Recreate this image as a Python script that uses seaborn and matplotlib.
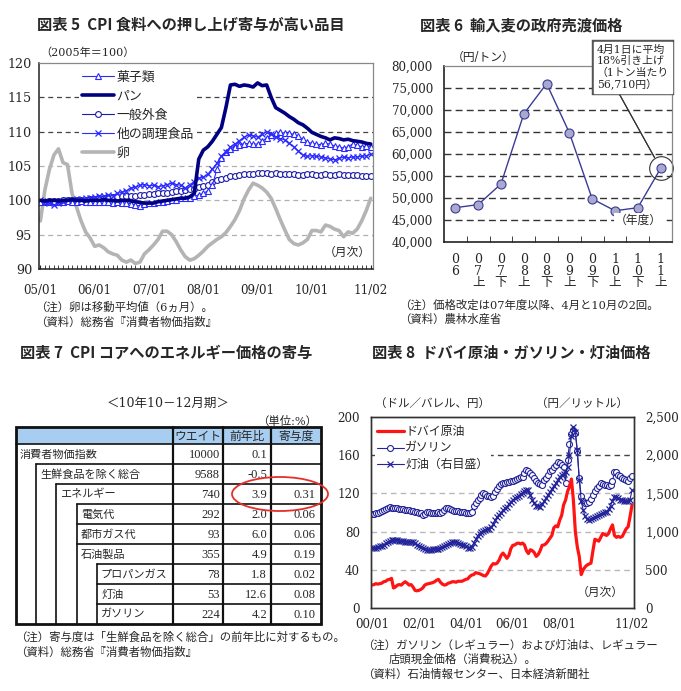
import numpy as np
import seaborn as sns
from matplotlib import pyplot as plt
from matplotlib.patches import Ellipse, Rectangle
from matplotlib.ticker import FuncFormatter, MultipleLocator

sns.set_style('white')
JP = ['Noto Sans CJK JP']
plt.rcParams['font.family'] = ['DejaVu Serif', 'Noto Sans CJK JP']

# ---- 図表5: CPI food items (monthly, 05/01 - 11/02, 2005=100)
cpi_ticks = ['05/01', '06/01', '07/01', '08/01', '09/01', '10/01', '11/02']
sweets = [99.8, 99.9, 99.8, 99.9, 99.8, 99.8, 99.9, 99.8, 99.8, 99.9, 99.8, 99.8,
          99.8, 99.7, 99.8, 99.7, 99.6, 99.7, 99.6, 99.6, 99.5, 99.3, 99.2, 99.4,
          99.6, 99.6, 99.7, 99.8, 99.9, 100.0, 100.1, 100.3, 100.3, 100.4, 100.6, 100.8,
          101.0, 101.4, 102.2, 104.5, 106.2, 107.0, 107.5, 107.8, 108.1, 108.2, 108.3, 108.2,
          108.2, 108.6, 109.1, 109.5, 109.8, 109.9, 109.8, 109.8, 109.6, 109.3, 108.9, 108.5,
          108.3, 108.2, 108.1, 108.3, 108.2, 107.9, 107.8, 107.6, 107.8, 108.2, 108.0, 107.8,
          107.9, 107.8]
bread = [100.0, 99.9, 100.0, 100.0, 99.9, 100.0, 100.0, 100.1, 100.0, 100.0, 99.9, 100.0,
         100.0, 100.0, 100.1, 100.0, 100.0, 99.9, 100.0, 100.0, 99.9, 99.8, 99.7, 99.6,
         99.6, 99.6, 99.8, 99.9, 100.0, 100.1, 100.2, 100.3, 100.3, 100.5, 101.0, 106.0,
         107.3, 107.8, 108.6, 109.6, 110.6, 113.5, 116.8, 116.9, 116.6, 116.8, 116.7, 116.5,
         117.1, 116.7, 116.8, 115.0, 113.5, 113.1, 112.7, 112.2, 111.8, 111.3, 111.0, 110.5,
         109.9, 109.6, 109.3, 109.1, 108.8, 109.1, 109.0, 108.8, 108.9, 108.7, 108.6, 108.5,
         108.3, 108.2]
eating_out = [99.8, 99.8, 99.9, 99.9, 99.9, 100.0, 100.0, 100.0, 100.0, 100.1, 100.1, 100.2,
              100.2, 100.3, 100.3, 100.4, 100.5, 100.5, 100.6, 100.6, 100.7, 100.7, 100.8, 100.8,
              100.9, 100.9, 101.0, 101.0, 101.1, 101.2, 101.3, 101.4, 101.5, 101.6, 101.7, 101.9,
              102.1, 102.3, 102.6, 102.9, 103.1, 103.3, 103.5, 103.6, 103.7, 103.8, 103.9, 103.9,
              104.0, 104.0, 104.0, 103.9, 104.0, 103.9, 103.9, 103.8, 103.8, 103.7, 103.7, 103.8,
              103.8, 103.7, 103.7, 103.8, 103.7, 103.7, 103.8, 103.7, 103.7, 103.7, 103.7, 103.6,
              103.6, 103.6]
prepared = [100.0, 99.8, 99.6, 99.3, 99.6, 99.8, 100.0, 100.1, 100.2, 100.2, 100.3, 100.4,
            100.5, 100.6, 100.6, 100.8, 100.7, 101.0, 101.2, 101.4, 101.8, 101.9, 102.2, 102.3,
            102.1, 102.2, 102.0, 102.1, 102.3, 102.5, 102.3, 102.2, 101.8, 102.3, 102.7, 103.2,
            103.4, 103.8, 104.6, 105.4, 106.5, 107.1, 107.8, 108.2, 108.7, 109.2, 109.5, 109.4,
            109.2, 109.6, 110.0, 109.6, 109.2, 109.0, 108.8, 108.3, 107.8, 107.2, 106.6, 106.4,
            106.5, 106.4, 106.3, 106.2, 106.0, 105.9, 106.1, 106.3, 106.2, 106.3, 106.3, 106.4,
            106.5, 106.7]
egg = [97.0, 101.5, 104.5, 106.6, 107.5, 105.5, 105.2, 101.0, 99.0, 97.0, 95.4, 94.5,
       93.3, 93.5, 93.1, 92.5, 92.2, 92.0, 91.3, 91.0, 91.3, 90.8, 91.0, 92.2,
       92.8, 93.5, 94.3, 95.5, 95.5, 95.0, 94.0, 92.8, 91.8, 91.3, 91.5, 92.0,
       92.6, 93.3, 93.8, 94.3, 94.7, 95.3, 96.2, 97.2, 98.5, 100.2, 101.5, 102.5,
       102.2, 101.8, 101.2, 100.3, 98.8, 97.2, 95.7, 94.3, 93.7, 93.5, 93.8, 94.3,
       95.6, 95.6, 95.4, 96.4, 96.2, 95.8, 95.6, 94.7, 95.4, 95.2, 95.8, 97.0,
       98.5, 100.3]

# ---- 図表6: government resale price of imported wheat (yen/ton)
wheat_period = ['06', '07上', '07下', '08上', '08下', '09上', '09下', '10上', '10下', '11上']
wheat_price = [47800, 48500, 53200, 69100, 76000, 64800, 49800, 47100, 47800, 56710]

# ---- 図表7: energy contribution table
tbl_items = ['消費者物価指数', '生鮮食品を除く総合', 'エネルギー', '電気代', '都市ガス代',
             '石油製品', 'プロパンガス', '灯油', 'ガソリン']
tbl_level = [0, 1, 2, 3, 3, 3, 4, 4, 4]
tbl_weight = [10000, 9588, 740, 292, 93, 355, 78, 53, 224]
tbl_yoy = [0.1, -0.5, 3.9, 2.0, 6.0, 4.9, 1.8, 12.6, 4.2]
tbl_contrib = [None, None, 0.31, 0.06, 0.06, 0.19, 0.02, 0.08, 0.10]
tbl_header = ['ウエイト', '前年比', '寄与度']

# ---- 図表8: Dubai crude, gasoline, kerosene (monthly, 00/01 - 11/02)
oil_ticks = ['00/01', '02/01', '04/01', '06/01', '08/01', '11/02']
dubai = [24.0, 24.5, 25.5, 25.0, 25.5, 26.0, 27.5, 28.0, 29.5, 30.0, 31.0, 21.0,
         22.0, 24.0, 24.5, 24.0, 26.0, 27.5, 26.0, 24.0, 24.5, 22.0, 18.5, 18.0,
         18.5, 19.5, 21.0, 24.0, 25.0, 25.5, 26.0, 26.5, 27.5, 29.0, 30.0, 27.0,
         25.0, 24.0, 24.5, 26.0, 26.5, 27.5, 27.5, 27.0, 28.0, 28.0, 28.0, 29.0,
         30.0, 30.5, 33.0, 34.5, 35.0, 37.0, 36.5, 36.0, 35.0, 34.0, 33.5, 36.0,
         40.0, 44.0, 46.5, 46.0, 47.0, 50.0, 55.0, 57.5, 55.0, 52.0, 55.0, 62.0,
         65.6, 66.0, 67.5, 68.0, 67.0, 68.0, 66.0, 60.0, 57.0, 61.0, 60.0, 58.0,
         54.0, 56.0, 60.0, 65.6, 66.0, 67.4, 70.0, 73.0, 76.0, 84.0, 86.0, 85.0,
         92.0, 97.0, 108.0, 113.0, 122.0, 127.0, 135.0, 113.0, 80.0, 64.0, 54.0, 35.0,
         40.0, 43.0, 45.0, 46.0, 47.0, 60.0, 72.0, 71.0, 70.0, 74.0, 78.0, 77.0,
         76.0, 78.0, 83.0, 87.0, 76.0, 74.0, 75.0, 74.0, 75.0, 79.0, 83.0, 85.0,
         96.0, 108.0]
gasoline = [98, 98.5, 99, 100, 100.5, 102, 103, 104, 105, 105.5, 105, 105,
            104.5, 104.5, 104, 104, 103.5, 103, 102.5, 102.5, 102, 101.5, 101, 100.5,
            100, 99, 97.5, 98.5, 100.5, 100.5, 100, 99.5, 99.5, 100, 100.5, 100,
            101, 103, 105, 105, 104, 103, 102, 102, 101.5, 101, 101, 100.5,
            100, 100, 100, 101, 107, 110, 113, 115, 118, 120, 119, 117,
            117, 116.5, 117, 121, 125, 127.5, 129.5, 130.5, 131, 132, 132, 132.5,
            133, 134, 135.5, 136.5, 137, 137.5, 141, 144.5, 143, 141, 139, 136,
            132.5, 131, 130, 129, 134, 136, 139, 143, 145, 147.5, 150, 153,
            152, 150, 148, 131, 155, 172, 182, 186, 183, 164, 136, 117,
            112, 110, 109.5, 111, 114, 118, 122, 126, 128, 130.5, 130, 129,
            128.5, 128, 129, 133, 142.5, 142, 139.5, 138, 136.5, 135, 134, 133.5,
            136, 138]
kerosene = [780, 785, 790, 795, 805, 815, 830, 845, 860, 875, 885, 890,
            888, 885, 880, 875, 872, 870, 868, 868, 866, 860, 845, 825,
            810, 800, 785, 770, 760, 762, 765, 770, 772, 775, 778, 782,
            795, 810, 825, 840, 855, 862, 868, 860, 850, 840, 830, 822,
            805, 790, 782, 800, 850, 900, 945, 975, 990, 1005, 1020, 1035,
            1040, 1060, 1100, 1150, 1195, 1220, 1250, 1280, 1305, 1325, 1360, 1390,
            1415, 1435, 1450, 1470, 1490, 1510, 1530, 1545, 1540, 1480, 1420, 1370,
            1340, 1330, 1326, 1360, 1400, 1440, 1480, 1520, 1560, 1600, 1630, 1680,
            1720, 1740, 1760, 1785, 1850, 2000, 2250, 2370, 2308, 2068, 1675, 1400,
            1283, 1200, 1160, 1150, 1160, 1175, 1190, 1200, 1215, 1230, 1245, 1255,
            1261, 1290, 1340, 1400, 1457, 1450, 1435, 1420, 1413, 1405, 1400, 1395,
            1420, 1545]

W, H = 681, 691


def box(x0, y0, x1, y1):
    """ pixel box (top-left origin) -> figure fraction rect """
    return [x0 / W, 1 - y1 / H, (x1 - x0) / W, (y1 - y0) / H]


comma = FuncFormatter(lambda v, p: f'{v:,.0f}')

fig = plt.figure(figsize=(W / 100, H / 100), dpi=100)
ov = fig.add_axes([0, 0, 1, 1])
ov.set_xlim(0, W)
ov.set_ylim(H, 0)
ov.axis('off')

TITLE = dict(fontsize=11, fontweight='bold', family=JP, va='center')
NOTE = dict(fontsize=8.2, va='center')
ov.text(37, 25, '図表 5  CPI 食料への押し上げ寄与が高い品目', **TITLE)
ov.text(420, 25, '図表 6  輸入麦の政府売渡価格', **TITLE)
ov.text(20, 353, '図表 7  CPI コアへのエネルギー価格の寄与', **TITLE)
ov.text(372, 353, '図表 8  ドバイ原油・ガソリン・灯油価格', **TITLE)

# ================= 図表5
ax5 = fig.add_axes(box(39, 63, 373, 269))
m5 = np.arange(len(bread))
BLUE, NAVY = '#2a2aff', '#000080'
sns.lineplot(x=m5, y=egg, ax=ax5, color='#b4b4b4', lw=2.6, label='卵', legend=False)
sns.lineplot(x=m5, y=eating_out, ax=ax5, color='#1c1ca8', lw=0.8, marker='o', ms=4.2,
             mfc='white', mec='#1c1ca8', mew=0.8, label='一般外食', legend=False)
sns.lineplot(x=m5, y=sweets, ax=ax5, color=BLUE, lw=0.8, marker='^', ms=4.2,
             mfc='white', mec=BLUE, mew=0.8, label='菓子類', legend=False)
sns.lineplot(x=m5, y=prepared, ax=ax5, color=BLUE, lw=0.8, marker='x', ms=4.2,
             mec=BLUE, mew=0.9, label='他の調理食品', legend=False)
sns.lineplot(x=m5, y=bread, ax=ax5, color=NAVY, lw=2.6, label='パン', legend=False)
for v in [95, 100, 105, 110, 115]:
    ax5.axhline(v, color='#444444' if v >= 110 else '#b0b0b0', lw=0.9,
                ls=(0, (4, 3)), zorder=0)
ax5.set_xlim(-0.3, len(m5) - 0.5)
ax5.set_ylim(90, 120)
ax5.set_yticks(range(90, 121, 5))
ax5.set_xticks([0, 12, 24, 36, 48, 60, len(m5) - 1])
ax5.set_xticklabels(cpi_ticks)
ax5.xaxis.set_minor_locator(MultipleLocator(1))
ax5.tick_params(axis='x', which='both', direction='in', length=3, bottom=True,
                color='#222222', pad=11, labelsize=8.6)
ax5.tick_params(axis='y', length=0, pad=5, labelsize=9.2)
for s in ['left', 'bottom']:
    ax5.spines[s].set_color('#222222')
    ax5.spines[s].set_linewidth(1.1)
for s in ['top', 'right']:
    ax5.spines[s].set_color('#888888')
    ax5.spines[s].set_linewidth(0.9)
h, l = ax5.get_legend_handles_labels()
order = [l.index(k) for k in ['菓子類', 'パン', '一般外食', '他の調理食品', '卵']]
ax5.legend([h[i] for i in order], [l[i] for i in order], loc='upper left',
           bbox_to_anchor=(0.12, 0.975), frameon=True, facecolor='white',
           edgecolor='none', framealpha=1, fancybox=False,
           handlelength=2.5, handletextpad=0.2, labelspacing=0.46,
           borderpad=0.2, borderaxespad=0, prop={'family': JP, 'size': 9.3})
ov.text(40, 53, '（2005年＝100）', fontsize=8, va='center')
ax5.text(371, 252, '（月次）', transform=ov.transData, fontsize=8.5, ha='right', va='center')
ov.text(35, 307, '（注）卵は移動平均値（6ヵ月）。', **NOTE)
ov.text(35, 322, '（資料）総務省『消費者物価指数』', **NOTE)

# ================= 図表6
ax6 = fig.add_axes(box(444, 66, 672, 242))
pos6 = np.arange(len(wheat_price))
LINE6 = '#3b3b96'
for v in range(45000, 80000, 5000):
    ax6.axhline(v, color='#333333', lw=1.0, ls=(0, (5, 3)), zorder=0)
sns.lineplot(x=pos6, y=wheat_price, ax=ax6, color=LINE6, lw=1.0, marker='o', ms=6.5,
             mfc='#a9a9cf', mec=LINE6, mew=0.8, legend=False)
ax6.plot([pos6[-1]], [wheat_price[-1]], marker='o', ms=17, mfc='none', mec='#333333',
         mew=0.8, clip_on=False)
ax6.set_xlim(-0.5, len(pos6) - 0.5)
ax6.set_ylim(40000, 80000)
ax6.set_yticks(range(40000, 80001, 5000))
ax6.yaxis.set_major_formatter(comma)
ax6.set_xticks(pos6)
ax6.set_xticklabels(['\n'.join(p) for p in wheat_period], linespacing=0.85)
ax6.set_xticks(pos6[1:] - 0.5, minor=True)
ax6.tick_params(axis='x', which='major', length=0, pad=8, labelsize=9)
ax6.tick_params(axis='x', which='minor', direction='in', length=4, bottom=True,
                color='#222222')
ax6.tick_params(axis='y', length=0, pad=8, labelsize=8.6)
for s in ['left', 'bottom']:
    ax6.spines[s].set_color('#222222')
    ax6.spines[s].set_linewidth(1.2)
for s in ['top', 'right']:
    ax6.spines[s].set_color('#888888')
    ax6.spines[s].set_linewidth(0.9)
note6 = '4月1日に平均\n18%引き上げ\n（1トン当たり\n56,710円）'
for ec, lw in [('#555555', 3.2), ('white', 1.0)]:
    ax6.annotate(note6, xy=(pos6[-1], wheat_price[-1]), xytext=(597, 45),
                 textcoords=ov.transData, fontsize=7.8, va='top', ha='left',
                 linespacing=1.15, annotation_clip=False,
                 bbox=dict(boxstyle='square,pad=0.25', fc='white', ec=ec, lw=lw),
                 arrowprops=dict(arrowstyle='-', color='#333333', lw=0.8,
                                 relpos=(0.28, 0), shrinkA=0, shrinkB=9))
ax6.text(662, 220, '（年度）', transform=ov.transData, fontsize=8.5, ha='right',
         va='center', bbox=dict(fc='white', ec='none', pad=0.5))
ov.text(452, 57, '（円/トン）', fontsize=8.5, va='center')
ov.text(399, 305, '（注）価格改定は07年度以降、4月と10月の2回。', **NOTE)
ov.text(399, 319, '（資料）農林水産省', **NOTE)

# ================= 図表7 (table)
ind_x = [16, 36, 56, 77, 97]
col_x = [173, 223, 271, 321]
top, head_h, row_h = 427, 17, 20
n_rows = len(tbl_items)
bottom = top + head_h + row_h * n_rows
ov.text(168, 403, '＜10年10－12月期＞', fontsize=9, ha='center', va='center')
ov.text(317, 421, '（単位:%）', fontsize=8.2, ha='right', va='center')
ov.add_patch(Rectangle((ind_x[0], top), col_x[-1] - ind_x[0], head_h,
                       fc='#a7cdf0', ec='none', zorder=1))
for j, hd in enumerate(tbl_header):
    ov.text((col_x[j] + col_x[j + 1]) / 2, top + head_h / 2 + 0.5, hd, fontsize=8.5,
            ha='center', va='center', zorder=3)
LK = dict(color='#111111', lw=1.2, zorder=2)
ov.plot([ind_x[0], col_x[-1]], [top + head_h] * 2, **LK)
for i in range(n_rows):
    y0 = top + head_h + i * row_h
    yc = y0 + row_h / 2 + 0.5
    ov.text(ind_x[tbl_level[i]] + 4, yc, tbl_items[i], fontsize=8.0, va='center',
            family=JP)
    ov.text(col_x[1] - 3, yc, f'{tbl_weight[i]}', fontsize=9, ha='right', va='center',
            family=['Liberation Serif'])
    ov.text(col_x[2] - 4, yc, f'{tbl_yoy[i]:.1f}', fontsize=9, ha='right', va='center',
            family=['Liberation Serif'])
    if tbl_contrib[i] is not None:
        ov.text(col_x[3] - 5, yc, f'{tbl_contrib[i]:.2f}', fontsize=9, ha='right',
                va='center', family=['Liberation Serif'])
    if i + 1 < n_rows:
        ov.plot([ind_x[tbl_level[i + 1]], col_x[-1]], [y0 + row_h] * 2, **LK)
for lev in range(1, len(ind_x)):
    first = tbl_level.index(lev)
    ov.plot([ind_x[lev]] * 2, [top + head_h + first * row_h, bottom], **LK)
for cx in col_x[:-1]:
    ov.plot([cx] * 2, [top, bottom], color='#111111', lw=1.6, zorder=2)
ov.add_patch(Rectangle((ind_x[0], top), col_x[-1] - ind_x[0], bottom - top,
                       fc='none', ec='#111111', lw=2.0, zorder=2))
ov.add_patch(Ellipse((280, 494), 96, 34, fc='none', ec='#e3302a', lw=1.3, zorder=4))
ov.text(15, 637, '（注）寄与度は「生鮮食品を除く総合」の前年比に対するもの。', **NOTE)
ov.text(15, 652, '（資料）総務省『消費者物価指数』', **NOTE)

# ================= 図表8
ax8 = fig.add_axes(box(371, 417, 634, 608))
ax8b = ax8.twinx()
m8 = np.arange(len(dubai))
for v, c in zip([40, 80, 120, 160], ['#b8b8b8', '#b8b8b8', '#b8b8b8', '#444444']):
    ax8.axhline(v, color=c, lw=1.0, ls=(0, (4, 3)), zorder=0)
sns.lineplot(x=m8, y=dubai, ax=ax8, color='#ff1414', lw=2.3, label='ドバイ原油',
             legend=False, zorder=3)
sns.lineplot(x=m8, y=gasoline, ax=ax8, color='#23239a', lw=0.8, marker='o', ms=4.3,
             mfc='white', mec='#23239a', mew=0.8, label='ガソリン', legend=False)
sns.lineplot(x=m8, y=kerosene, ax=ax8b, color='#23239a', lw=0.8, marker='x', ms=4.5,
             mec='#23239a', mew=0.9, label='灯油（右目盛）', legend=False)
ax8.set_xlim(-0.5, len(m8))
ax8.set_ylim(0, 200)
ax8b.set_ylim(0, 2500)
ax8.set_yticks(range(0, 201, 40))
ax8b.set_yticks(range(0, 2501, 500))
ax8b.yaxis.set_major_formatter(comma)
ax8.set_xticks([0, 24, 48, 72, 96, len(m8) - 1])
ax8.set_xticklabels(oil_ticks)
ax8.tick_params(axis='x', length=0, pad=7, labelsize=8.6)
ax8.tick_params(axis='y', length=0, pad=8, labelsize=8.6)
ax8b.tick_params(axis='y', length=0, pad=8, labelsize=8.6)
for a in [ax8, ax8b]:
    for s in a.spines.values():
        s.set_color('#333333')
        s.set_linewidth(1.0)
h1, l1 = ax8.get_legend_handles_labels()
h2, l2 = ax8b.get_legend_handles_labels()
ax8b.legend(h1 + h2, l1 + l2, loc='upper left', bbox_to_anchor=(0.015, 0.97),
            frameon=True, facecolor='white', edgecolor='none', framealpha=1,
            fancybox=False, handlelength=2.2, handletextpad=0.15, labelspacing=0.3,
            borderpad=0.2, borderaxespad=0, prop={'family': JP, 'size': 8.6})
ov.text(375, 403, '（ドル／バレル、円）', fontsize=8.3, va='center')
ov.text(628, 403, '（円／リットル）', fontsize=8.3, va='center', ha='right')
ax8.text(624, 592, '（月次）', transform=ov.transData, fontsize=8.5, ha='right', va='center')
ov.text(362, 645, '（注）ガソリン（レギュラー）および灯油は、レギュラー', **NOTE)
ov.text(389, 659, '店頭現金価格（消費税込）。', **NOTE)
ov.text(362, 674, '（資料）石油情報センター、日本経済新聞社', **NOTE)

fig.savefig('out.png', dpi=100)
